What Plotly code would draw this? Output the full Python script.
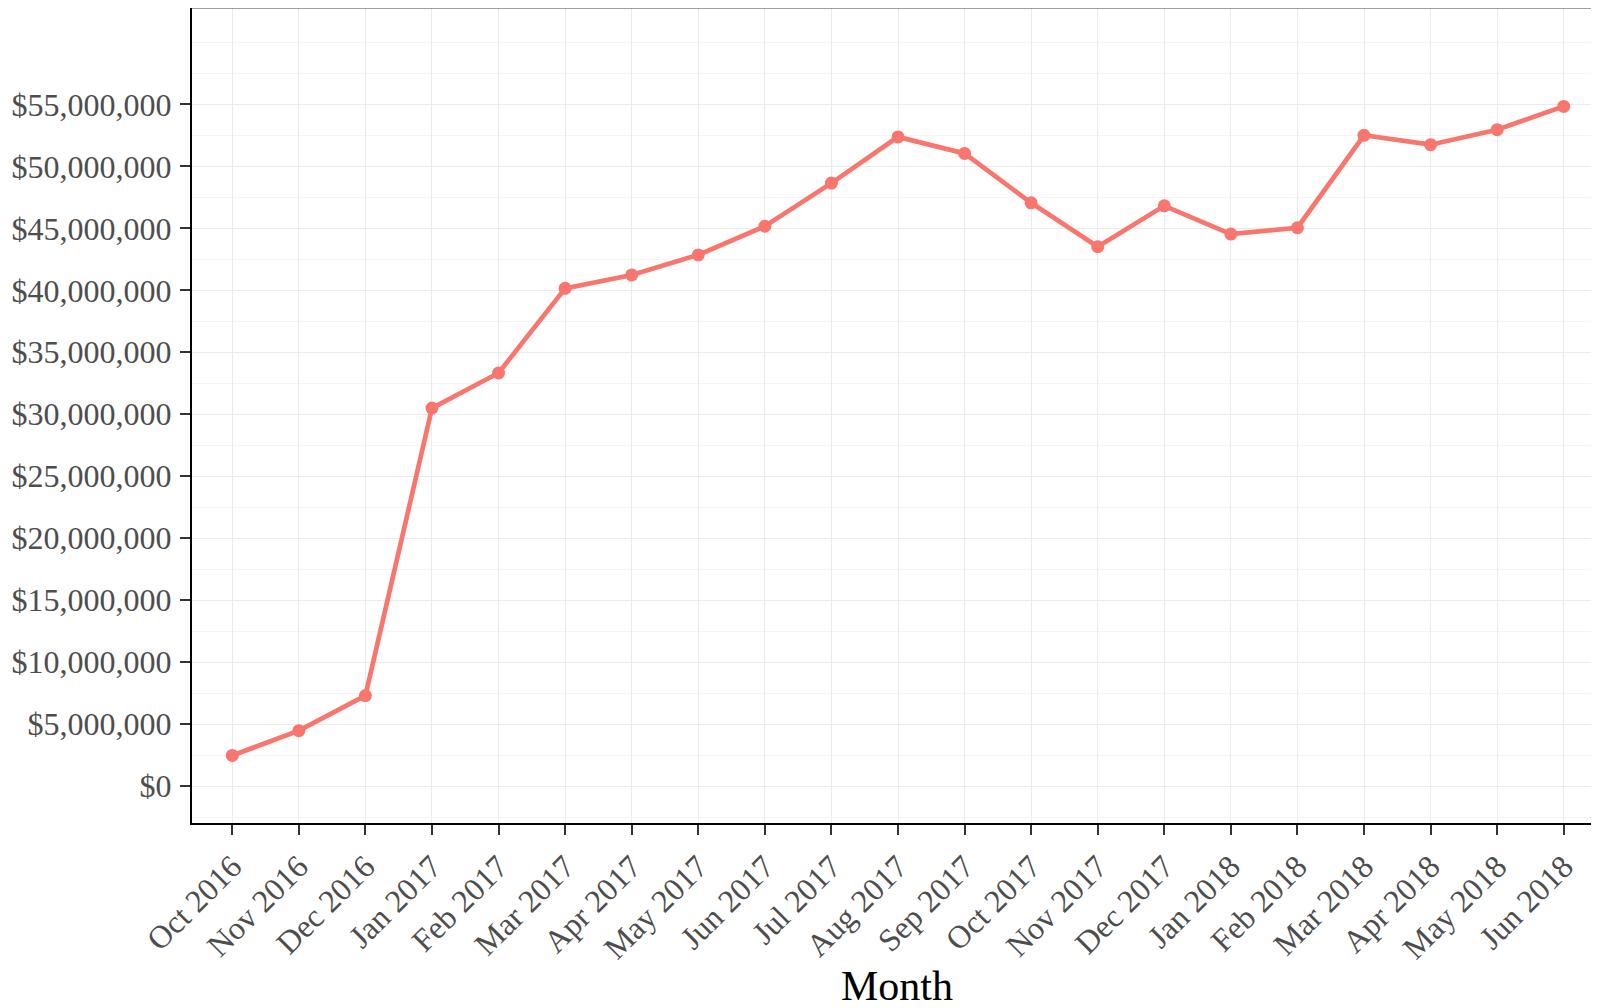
import plotly.graph_objects as go

months = ["Oct 2016", "Nov 2016", "Dec 2016", "Jan 2017", "Feb 2017", "Mar 2017",
          "Apr 2017", "May 2017", "Jun 2017", "Jul 2017", "Aug 2017", "Sep 2017",
          "Oct 2017", "Nov 2017", "Dec 2017", "Jan 2018", "Feb 2018", "Mar 2018",
          "Apr 2018", "May 2018", "Jun 2018"]
values = [2.47e6, 4.47e6, 7.30e6, 30.50e6, 33.33e6, 40.16e6,
          41.24e6, 42.86e6, 45.17e6, 48.65e6, 52.38e6, 51.05e6,
          47.06e6, 43.52e6, 46.82e6, 44.54e6, 45.05e6, 52.51e6,
          51.75e6, 52.96e6, 54.84e6]

y_tickvals = [0, 5e6, 10e6, 15e6, 20e6, 25e6, 30e6, 35e6, 40e6, 45e6, 50e6, 55e6]
y_ticktext = ["${:,.0f}".format(v) for v in y_tickvals]
y_minor = [-2.5e6, 2.5e6, 7.5e6, 12.5e6, 17.5e6, 22.5e6, 27.5e6, 32.5e6, 37.5e6,
           42.5e6, 47.5e6, 52.5e6, 57.5e6, 60e6]

font_family = "Liberation Serif, Times New Roman, serif"

fig = go.Figure()
fig.add_trace(go.Scatter(
    x=months, y=values, mode="lines+markers",
    line=dict(color="#F8766D", width=4.7),
    marker=dict(color="#F8766D", size=13),
    showlegend=False,
))

fig.update_layout(
    width=1591, height=1000,
    margin=dict(l=184, r=0, t=0, b=185),
    plot_bgcolor="white", paper_bgcolor="white",
    font=dict(family=font_family, color="#4d4d4d"),
    xaxis=dict(
        type="category",
        range=[-0.605, 20.53],
        showgrid=True, gridcolor="#ebebeb", gridwidth=1.2,
        showline=True, linecolor="black", linewidth=2,
        ticks="outside", ticklen=10, tickwidth=2, tickcolor="#333333",
        tickangle=-45,
        tickfont=dict(size=32, color="#4d4d4d", family=font_family),
        zeroline=False, automargin=False,
    ),
    yaxis=dict(
        range=[-2.98e6, 62.78e6],
        tickvals=y_tickvals, ticktext=y_ticktext,
        showgrid=True, gridcolor="#ebebeb", gridwidth=1.2,
        minor=dict(tickvals=y_minor, showgrid=True, gridcolor="#f5f5f5", gridwidth=1, ticks=""),
        showline=True, linecolor="black", linewidth=2,
        ticks="outside", ticklen=10, tickwidth=2, tickcolor="#333333",
        ticklabelstandoff=2,
        tickfont=dict(size=32, color="#4d4d4d", family=font_family),
        zeroline=False, automargin=False,
    ),
    shapes=[dict(type="line", xref="paper", yref="paper", x0=0, x1=1, y0=1, y1=1,
                 line=dict(color="#7f7f7f", width=1.5))],
    annotations=[dict(text="Month", xref="paper", yref="paper", x=0.5014, y=-0.2,
                      xanchor="center", yanchor="middle", showarrow=False,
                      font=dict(size=42, color="black", family=font_family))],
)

fig.write_html("out.html")
